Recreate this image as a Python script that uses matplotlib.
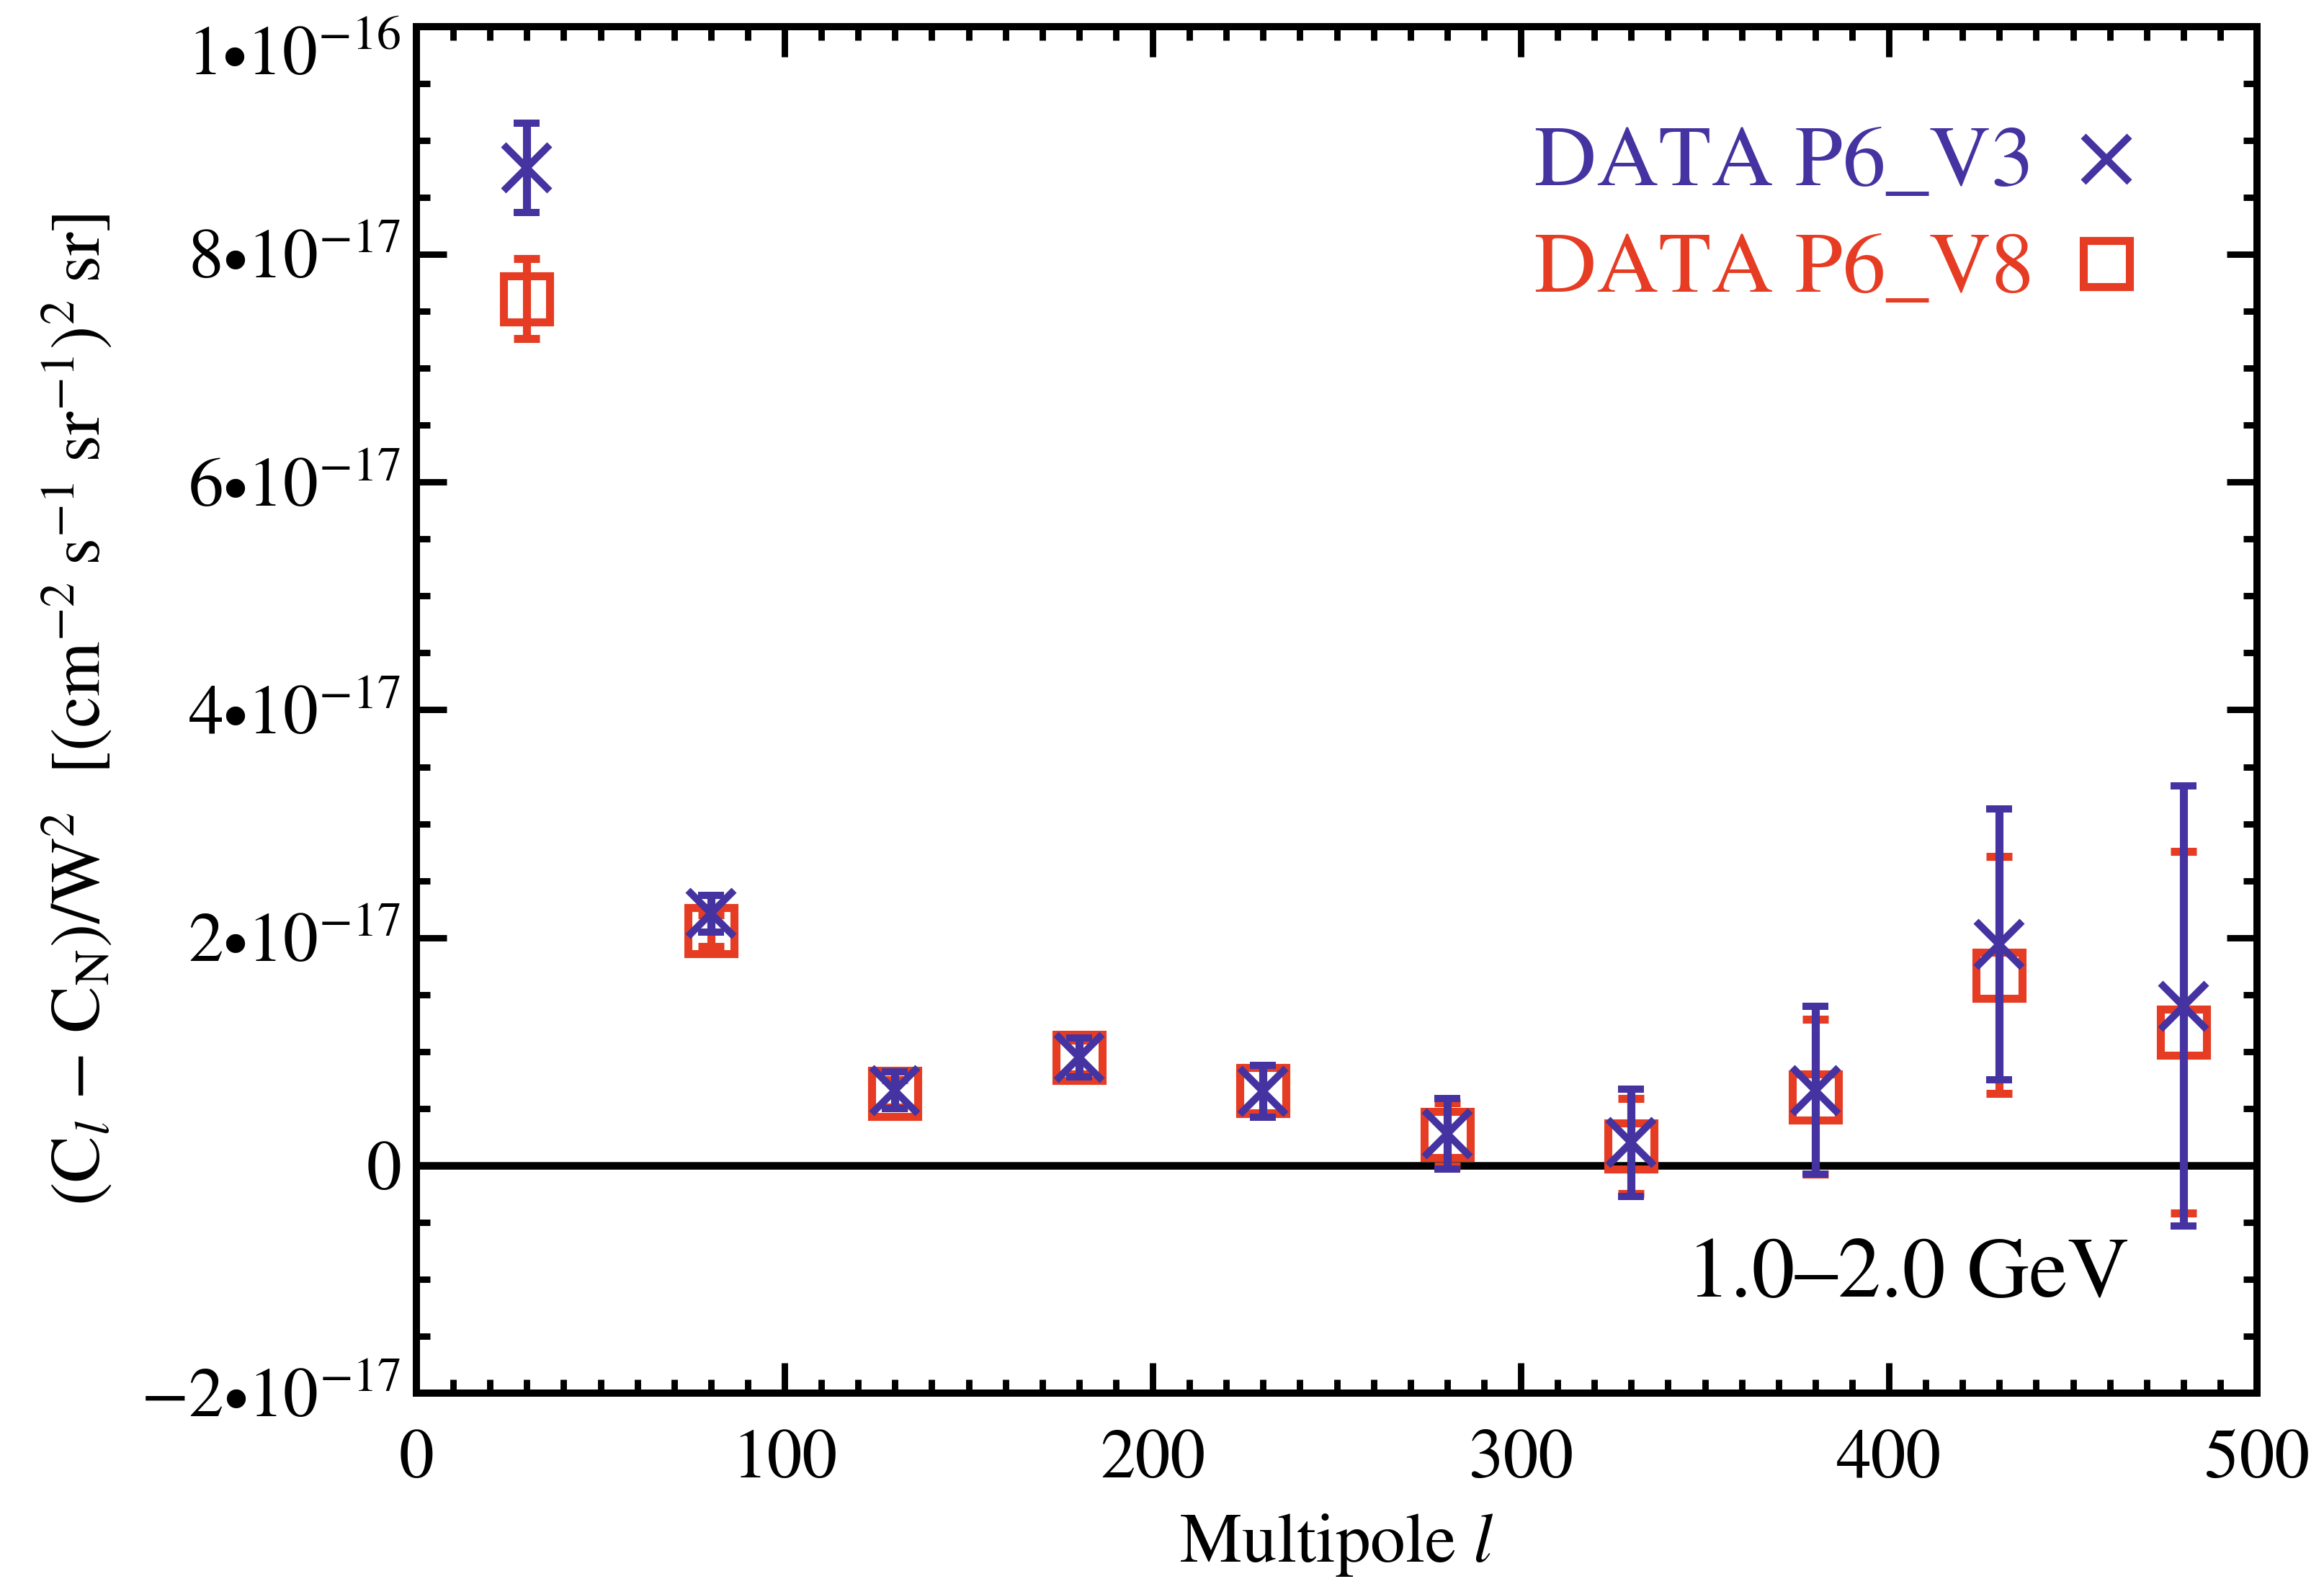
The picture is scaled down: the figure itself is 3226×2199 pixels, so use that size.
import matplotlib
matplotlib.use('Agg')
import matplotlib.pyplot as plt
from matplotlib.ticker import MultipleLocator, FuncFormatter
from matplotlib.transforms import ScaledTranslation

plt.rcParams.update({
    'font.family': 'STIXGeneral',
    'mathtext.fontset': 'stix',
    'font.size': 35,
})

# data (in units of 1e-17)
ell = [30, 80, 130, 180, 230, 280, 330, 380, 430, 480]
v3 = [8.76, 2.21, 0.66, 0.95, 0.65, 0.28, 0.20, 0.66, 1.94, 1.40]
v3_err = [0.39, 0.16, 0.16, 0.17, 0.23, 0.31, 0.47, 0.74, 1.19, 1.93]
v8 = [7.61, 2.06, 0.63, 0.95, 0.66, 0.27, 0.17, 0.60, 1.67, 1.17]
v8_err = [0.35, 0.14, 0.12, 0.15, 0.20, 0.28, 0.42, 0.68, 1.04, 1.59]
scale = 1e-17
yticks = [-2e-17, 0, 2e-17, 4e-17, 6e-17, 8e-17, 1e-16]

blue = '#4433A0'
red = '#E63C23'

fig = plt.figure(figsize=(16.13, 10.995), dpi=200)
ax = fig.add_axes([0.1792, 0.1205, 0.792, 0.8627])

ax.axhline(0, color='black', lw=3.8, zorder=1)

ax.errorbar(ell, [v * scale for v in v8], yerr=[e * scale for e in v8_err],
            fmt='s', color=red, mfc='none', mec=red, ms=23, mew=4,
            elinewidth=4, capsize=6.5, capthick=4.5, zorder=2)
ax.errorbar(ell, [v * scale for v in v3], yerr=[e * scale for e in v3_err],
            fmt='x', color=blue, ms=23, mew=3.6,
            elinewidth=4, capsize=6.5, capthick=4.5, zorder=3)

ax.set_xlim(0, 500)
ax.set_ylim(-2e-17, 1e-16)
ax.set_xticks([0, 100, 200, 300, 400, 500])
ax.xaxis.set_minor_locator(MultipleLocator(10))
ax.set_yticks(yticks)
ax.yaxis.set_minor_locator(MultipleLocator(5e-18))


def ylab(v, pos):
    if abs(v) < 1e-30:
        return '$0$'
    exp = -16 if abs(v) >= 9.9e-17 else -17
    m = round(v / 10.0 ** exp)
    return r'$%d{\bullet}10^{%d}$' % (m, exp)


ax.yaxis.set_major_formatter(FuncFormatter(ylab))

ax.tick_params(which='both', direction='in', top=True, right=True,
               width=3.2, color='black')
ax.tick_params(which='major', length=15)
ax.tick_params(which='minor', length=7)
ax.tick_params(axis='x', which='major', pad=18, labelsize=35)
ax.tick_params(axis='y', which='major', pad=8, labelsize=35)
for sp in ax.spines.values():
    sp.set_linewidth(3.6)

ax.set_xlabel(r'Multipole $l$', fontsize=35)
ax.xaxis.set_label_coords(0.5, -0.087)
ax.set_ylabel(r'$(\mathrm{C}_l\, -\, \mathrm{C}_\mathrm{N})/\mathrm{W}^2$  '
              r'$[(\mathrm{cm}^{-2}\;\mathrm{s}^{-1}\;\mathrm{sr}^{-1})^2\;\mathrm{sr}]$',
              fontsize=35)
ax.yaxis.set_label_coords(-0.164, 0.5)

# legend drawn as coloured text with markers
ax.text(0.879, 0.884, 'DATA P6_V3', color=blue, fontsize=43,
        ha='right', va='baseline', transform=ax.transAxes)
ax.plot([0.918], [0.903], marker='x', color=blue, ms=23, mew=3.6,
        transform=ax.transAxes, clip_on=False)
ax.text(0.879, 0.806, 'DATA P6_V8', color=red, fontsize=43,
        ha='right', va='baseline', transform=ax.transAxes)
ax.plot([0.918], [0.8266], marker='s', color=red, mfc='none', ms=23, mew=4,
        transform=ax.transAxes, clip_on=False)

ax.text(0.9307, 0.0706, '1.0\u20132.0 GeV', fontsize=43,
        ha='right', va='baseline', transform=ax.transAxes)

# top tick label sits lower so it stays inside the figure
top_tick = ax.yaxis.get_major_ticks()[-1]
lab = top_tick.label1
lab.set_transform(lab.get_transform() + ScaledTranslation(0, -0.17, fig.dpi_scale_trans))

fig.savefig('out.png', dpi=200)
